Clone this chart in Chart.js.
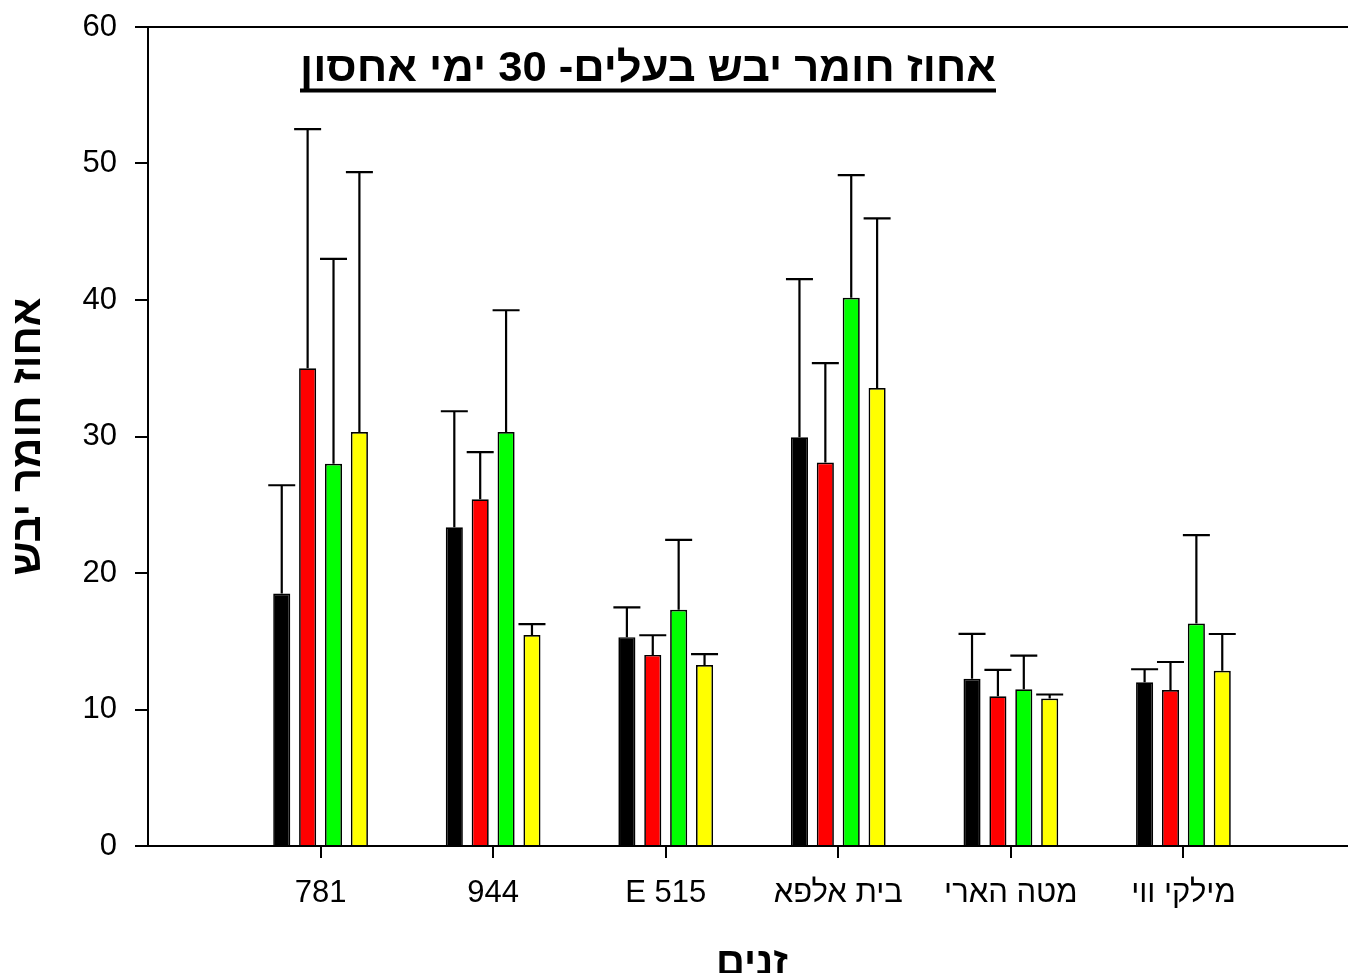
<!DOCTYPE html>
<html>
<head>
<meta charset="utf-8">
<script src="https://cdn.jsdelivr.net/npm/chart.js@4/dist/chart.umd.min.js"></script>
<style>
html,body{margin:0;padding:0;background:#fff;overflow:hidden;}
#wrap{width:1356px;height:1000px;}
</style>
</head>
<body>
<div id="wrap"><canvas id="c" width="1356" height="1000"></canvas></div>
<script>
const categories = ['781', '944', 'E 515', 'בית אלפא', 'מטה הארי', 'מילקי ווי'];
const seriesBlack  = [18.5, 23.35, 15.3, 29.95, 12.25, 12.0];
const seriesRed    = [35.0, 25.4, 14.0, 28.1, 10.97, 11.43];
const seriesGreen  = [28.0, 30.33, 17.3, 40.17, 11.48, 16.3];
const seriesYellow = [30.33, 15.45, 13.26, 33.55, 10.8, 12.83];
const errTopBlack  = [26.43, 31.85, 17.48, 41.53, 15.54, 12.95];
const errTopRed    = [52.52, 28.85, 15.44, 35.37, 12.9, 13.48];
const errTopGreen  = [43.02, 39.25, 22.42, 49.15, 13.94, 22.78];
const errTopYellow = [49.37, 16.25, 14.05, 45.98, 11.1, 15.53];
const yTicks = [0, 10, 20, 30, 40, 50, 60];
const chartTitle = 'אחוז חומר יבש בעלים- 30 ימי אחסון';
const xTitle = 'זנים';
const yTitle = 'אחוז חומר יבש';

const pad = a => [null, ...a, null];
const labels = ['', ...categories, ''];
const colors = ['#000000', '#ff0000', '#00ff00', '#ffff00'];
const values = [seriesBlack, seriesRed, seriesGreen, seriesYellow];
const errs = [errTopBlack, errTopRed, errTopGreen, errTopYellow];

const datasets = values.map((v, i) => ({
  data: pad(v),
  errTop: pad(errs[i]),
  backgroundColor: colors[i],
  borderColor: '#000',
  borderWidth: 1.7,
  borderSkipped: 'start',
  categoryPercentage: 0.6,
  barPercentage: 0.66
}));

const errorBars = {
  id: 'errorBars',
  afterDatasetsDraw(chart) {
    const ctx = chart.ctx;
    const y = chart.scales.y;
    ctx.save();
    ctx.strokeStyle = '#000';
    ctx.lineWidth = 2.2;
    chart.data.datasets.forEach((ds, di) => {
      const meta = chart.getDatasetMeta(di);
      meta.data.forEach((bar, i) => {
        const t = ds.errTop[i];
        if (t == null) return;
        const x = bar.x;
        const yTop = y.getPixelForValue(t);
        const yBar = bar.y;
        ctx.beginPath();
        ctx.moveTo(x, yBar);
        ctx.lineTo(x, yTop);
        ctx.moveTo(x - 13.5, yTop);
        ctx.lineTo(x + 13.5, yTop);
        ctx.stroke();
      });
    });
    ctx.restore();
  }
};

const frameAndTitle = {
  id: 'frameAndTitle',
  afterDraw(chart) {
    const ctx = chart.ctx;
    const a = chart.chartArea;
    ctx.save();
    ctx.strokeStyle = '#000';
    ctx.lineWidth = 2;
    ctx.beginPath();
    ctx.moveTo(a.left, a.top);
    ctx.lineTo(a.right, a.top);
    ctx.lineTo(a.right, a.bottom);
    ctx.stroke();
    ctx.font = 'bold 42px "Liberation Sans Narrow", "Liberation Sans", Arial, sans-serif';
    ctx.direction = 'rtl';
    ctx.textAlign = 'center';
    ctx.textBaseline = 'alphabetic';
    ctx.fillStyle = '#000';
    const w = ctx.measureText(chartTitle).width;
    const target = 696;
    const cx = 648;
    ctx.translate(cx, 81);
    ctx.scale(target / w, 1);
    ctx.fillText(chartTitle, 0, 0);
    ctx.setTransform(1, 0, 0, 1, 0, 0);
    ctx.fillRect(300, 88.5, 696, 4);
    ctx.restore();
  }
};

new Chart(document.getElementById('c'), {
  type: 'bar',
  data: { labels, datasets },
  options: {
    responsive: false,
    animation: false,
    layout: { autoPadding: false, padding: { top: 27, right: 0, left: 0, bottom: 0 } },
    plugins: { legend: { display: false }, tooltip: { enabled: false }, title: { display: false } },
    scales: {
      x: {
        type: 'category',
        offset: false,
        grid: {
          offset: false,
          drawOnChartArea: false,
          tickLength: 12,
          lineWidth: 2,
          color: ctx => (ctx.index === 0 || ctx.index === labels.length - 1) ? 'rgba(0,0,0,0)' : '#000'
        },
        border: { color: '#000', width: 2 },
        ticks: {
          color: '#000',
          font: { family: '"Liberation Sans", Arial, sans-serif', size: 31 },
          padding: 17,
          maxRotation: 0,
          autoSkip: false
        },
        title: {
          display: true,
          text: xTitle,
          color: '#000',
          font: { family: '"Liberation Sans", Arial, sans-serif', size: 40, weight: 'bold' },
          padding: { top: 0, bottom: 12 }
        },
        afterFit(s) { s.height = 154; s.paddingLeft = 0; s.paddingRight = 0; }
      },
      y: {
        min: 0,
        max: 60,
        afterBuildTicks(s) { s.ticks = yTicks.map(v => ({ value: v })); },
        grid: { drawOnChartArea: false, tickLength: 13, lineWidth: 2, color: '#000' },
        border: { color: '#000', width: 2 },
        ticks: {
          color: '#000',
          font: { family: '"Liberation Sans", Arial, sans-serif', size: 31 },
          padding: 18
        },
        title: {
          display: true,
          text: yTitle,
          color: '#000',
          font: { family: '"Liberation Sans", Arial, sans-serif', size: 42, weight: 'bold' },
          padding: { top: 3, bottom: 0 }
        },
        afterFit(s) { s.width = 148; s.paddingTop = 0; s.paddingBottom = 0; }
      }
    }
  },
  plugins: [errorBars, frameAndTitle]
});
</script>
</body>
</html>
